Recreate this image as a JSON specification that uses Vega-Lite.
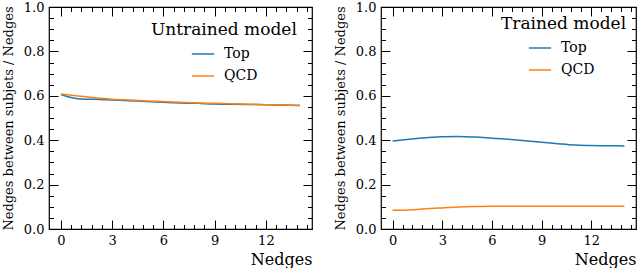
{
  "$schema": "https://vega.github.io/schema/vega-lite/v6.json",
  "padding": {"left": 1, "top": 0, "right": 5, "bottom": 0},
  "background": "white",
  "spacing": 19,
  "config": {
    "view": {"stroke": "#000", "strokeWidth": 1.2},
    "font": "DejaVu Serif",
    "axis": {
      "grid": false,
      "domain": false,
      "ticks": true,
      "zindex": 1,
      "labelFont": "DejaVu Serif",
      "labelFontSize": 13,
      "labelColor": "#000",
      "tickColor": "#000",
      "tickOpacity": 1,
      "tickWidth": 1,
      "labelFlush": false,
      "labelOverlap": false,
      "titleFont": "DejaVu Serif",
      "titleFontWeight": "normal",
      "titleColor": "#000"
    },
    "legend": {
      "orient": "top-right",
      "offset": 15,
      "padding": 0,
      "titleFont": "DejaVu Serif",
      "titleFontSize": 17,
      "titleFontWeight": "normal",
      "titleColor": "#000",
      "titlePadding": 3,
      "labelFont": "DejaVu Serif",
      "labelFontSize": 14,
      "labelColor": "#000",
      "labelOffset": 9,
      "symbolType": "stroke",
      "symbolStrokeWidth": 1.5,
      "symbolSize": 500,
      "rowPadding": 3
    }
  },
  "data": {"values": [
    {"panel": "U", "sample": "Top", "n": 0, "v": 0.606},
    {"panel": "U", "sample": "Top", "n": 1, "v": 0.587},
    {"panel": "U", "sample": "Top", "n": 2, "v": 0.584},
    {"panel": "U", "sample": "Top", "n": 3, "v": 0.581},
    {"panel": "U", "sample": "Top", "n": 4, "v": 0.578},
    {"panel": "U", "sample": "Top", "n": 5, "v": 0.574},
    {"panel": "U", "sample": "Top", "n": 6, "v": 0.571},
    {"panel": "U", "sample": "Top", "n": 7, "v": 0.568},
    {"panel": "U", "sample": "Top", "n": 8, "v": 0.566},
    {"panel": "U", "sample": "Top", "n": 9, "v": 0.563},
    {"panel": "U", "sample": "Top", "n": 10, "v": 0.562},
    {"panel": "U", "sample": "Top", "n": 11, "v": 0.561},
    {"panel": "U", "sample": "Top", "n": 12, "v": 0.560},
    {"panel": "U", "sample": "Top", "n": 13, "v": 0.558},
    {"panel": "U", "sample": "Top", "n": 14, "v": 0.556},
    {"panel": "U", "sample": "QCD", "n": 0, "v": 0.608},
    {"panel": "U", "sample": "QCD", "n": 1, "v": 0.599},
    {"panel": "U", "sample": "QCD", "n": 2, "v": 0.591},
    {"panel": "U", "sample": "QCD", "n": 3, "v": 0.585},
    {"panel": "U", "sample": "QCD", "n": 4, "v": 0.581},
    {"panel": "U", "sample": "QCD", "n": 5, "v": 0.577},
    {"panel": "U", "sample": "QCD", "n": 6, "v": 0.574},
    {"panel": "U", "sample": "QCD", "n": 7, "v": 0.571},
    {"panel": "U", "sample": "QCD", "n": 8, "v": 0.568},
    {"panel": "U", "sample": "QCD", "n": 9, "v": 0.566},
    {"panel": "U", "sample": "QCD", "n": 10, "v": 0.564},
    {"panel": "U", "sample": "QCD", "n": 11, "v": 0.562},
    {"panel": "U", "sample": "QCD", "n": 12, "v": 0.560},
    {"panel": "U", "sample": "QCD", "n": 13, "v": 0.558},
    {"panel": "U", "sample": "QCD", "n": 14, "v": 0.556},
    {"panel": "T", "sample": "Top", "n": 0, "v": 0.396},
    {"panel": "T", "sample": "Top", "n": 1, "v": 0.404},
    {"panel": "T", "sample": "Top", "n": 2, "v": 0.411},
    {"panel": "T", "sample": "Top", "n": 3, "v": 0.416},
    {"panel": "T", "sample": "Top", "n": 4, "v": 0.417},
    {"panel": "T", "sample": "Top", "n": 5, "v": 0.414},
    {"panel": "T", "sample": "Top", "n": 6, "v": 0.409},
    {"panel": "T", "sample": "Top", "n": 7, "v": 0.404},
    {"panel": "T", "sample": "Top", "n": 8, "v": 0.398},
    {"panel": "T", "sample": "Top", "n": 9, "v": 0.391},
    {"panel": "T", "sample": "Top", "n": 10, "v": 0.384},
    {"panel": "T", "sample": "Top", "n": 11, "v": 0.378},
    {"panel": "T", "sample": "Top", "n": 12, "v": 0.376},
    {"panel": "T", "sample": "Top", "n": 13, "v": 0.375},
    {"panel": "T", "sample": "Top", "n": 14, "v": 0.374},
    {"panel": "T", "sample": "QCD", "n": 0, "v": 0.085},
    {"panel": "T", "sample": "QCD", "n": 1, "v": 0.086},
    {"panel": "T", "sample": "QCD", "n": 2, "v": 0.091},
    {"panel": "T", "sample": "QCD", "n": 3, "v": 0.095},
    {"panel": "T", "sample": "QCD", "n": 4, "v": 0.099},
    {"panel": "T", "sample": "QCD", "n": 5, "v": 0.101},
    {"panel": "T", "sample": "QCD", "n": 6, "v": 0.102},
    {"panel": "T", "sample": "QCD", "n": 7, "v": 0.102},
    {"panel": "T", "sample": "QCD", "n": 8, "v": 0.102},
    {"panel": "T", "sample": "QCD", "n": 9, "v": 0.102},
    {"panel": "T", "sample": "QCD", "n": 10, "v": 0.102},
    {"panel": "T", "sample": "QCD", "n": 11, "v": 0.102},
    {"panel": "T", "sample": "QCD", "n": 12, "v": 0.102},
    {"panel": "T", "sample": "QCD", "n": 13, "v": 0.103},
    {"panel": "T", "sample": "QCD", "n": 14, "v": 0.103}
  ]},
  "resolve": {"legend": {"color": "independent"}},
  "hconcat": [
    {
      "width": 263, "height": 222,
      "transform": [{"filter": "datum.panel == 'U'"}],
      "layer": [
        {
          "mark": {"type": "line", "strokeWidth": 1.5, "interpolate": "monotone"},
          "encoding": {
            "x": {"field": "n", "type": "quantitative",
              "scale": {"domain": [-0.7, 14.7], "nice": false, "zero": false},
              "axis": {"orient": "bottom", "title": "Nedges", "titleAnchor": "end", "titleFontSize": 16, "titlePadding": 0,
                "values": [0,0.6,1.2,1.8,2.4,3,3.6,4.2,4.8,5.4,6,6.6,7.2,7.8,8.4,9,9.6,10.2,10.8,11.4,12,12.6,13.2,13.8,14.4],
                "tickSize": {"condition": {"test": "datum.value % 3 == 0", "value": -9}, "value": -4.5},
                "labelExpr": "datum.value % 3 == 0 ? format(datum.value, 'd') : ''",
                "labelPadding": 14}},
            "y": {"field": "v", "type": "quantitative",
              "scale": {"domain": [0, 1], "nice": false},
              "axis": {"orient": "left", "title": "Nedges between subjets / Nedges", "titleFontSize": 13, "titlePadding": 8,
                "values": [0,0.05,0.1,0.15,0.2,0.25,0.3,0.35,0.4,0.45,0.5,0.55,0.6,0.65,0.7,0.75,0.8,0.85,0.9,0.95,1],
                "tickSize": {"condition": {"test": "abs(datum.value*5 - round(datum.value*5)) < 0.001", "value": -9}, "value": -4.5},
                "labelExpr": "abs(datum.value*5 - round(datum.value*5)) < 0.001 ? format(datum.value, '.1f') : ''",
                "labelPadding": 14}},
            "color": {"field": "sample", "type": "nominal",
              "scale": {"domain": ["Top", "QCD"], "range": ["#1f77b4", "#ff7f0e"]},
              "legend": {"title": "Untrained model", "symbolOffset": 40, "offset": 15}}
          }
        },
        {
          "mark": {"type": "line", "strokeOpacity": 0},
          "encoding": {
            "x": {"field": "n", "type": "quantitative",
              "scale": {"domain": [-0.7, 14.7], "nice": false, "zero": false},
              "axis": {"orient": "top", "title": null, "labels": false, "minExtent": 0, "maxExtent": 0,
                "values": [0,0.6,1.2,1.8,2.4,3,3.6,4.2,4.8,5.4,6,6.6,7.2,7.8,8.4,9,9.6,10.2,10.8,11.4,12,12.6,13.2,13.8,14.4],
                "tickSize": {"condition": {"test": "datum.value % 3 == 0", "value": -9}, "value": -4.5}}},
            "y": {"field": "v", "type": "quantitative",
              "scale": {"domain": [0, 1], "nice": false},
              "axis": {"orient": "right", "title": null, "labels": false, "minExtent": 0, "maxExtent": 0,
                "values": [0,0.05,0.1,0.15,0.2,0.25,0.3,0.35,0.4,0.45,0.5,0.55,0.6,0.65,0.7,0.75,0.8,0.85,0.9,0.95,1],
                "tickSize": {"condition": {"test": "abs(datum.value*5 - round(datum.value*5)) < 0.001", "value": -9}, "value": -4.5}}}
          }
        }
      ],
      "resolve": {"axis": {"x": "independent", "y": "independent"}}
    },
    {
      "width": 255, "height": 222,
      "transform": [{"filter": "datum.panel == 'T'"}],
      "layer": [
        {
          "mark": {"type": "line", "strokeWidth": 1.5, "interpolate": "monotone"},
          "encoding": {
            "x": {"field": "n", "type": "quantitative",
              "scale": {"domain": [-0.7, 14.7], "nice": false, "zero": false},
              "axis": {"orient": "bottom", "title": "Nedges", "titleAnchor": "end", "titleFontSize": 16, "titlePadding": 0,
                "values": [0,0.6,1.2,1.8,2.4,3,3.6,4.2,4.8,5.4,6,6.6,7.2,7.8,8.4,9,9.6,10.2,10.8,11.4,12,12.6,13.2,13.8,14.4],
                "tickSize": {"condition": {"test": "datum.value % 3 == 0", "value": -9}, "value": -4.5},
                "labelExpr": "datum.value % 3 == 0 ? format(datum.value, 'd') : ''",
                "labelPadding": 14}},
            "y": {"field": "v", "type": "quantitative",
              "scale": {"domain": [0, 1], "nice": false},
              "axis": {"orient": "left", "title": "Nedges between subjets / Nedges", "titleFontSize": 13, "titlePadding": 8,
                "values": [0,0.05,0.1,0.15,0.2,0.25,0.3,0.35,0.4,0.45,0.5,0.55,0.6,0.65,0.7,0.75,0.8,0.85,0.9,0.95,1],
                "tickSize": {"condition": {"test": "abs(datum.value*5 - round(datum.value*5)) < 0.001", "value": -9}, "value": -4.5},
                "labelExpr": "abs(datum.value*5 - round(datum.value*5)) < 0.001 ? format(datum.value, '.1f') : ''",
                "labelPadding": 14}},
            "color": {"field": "sample", "type": "nominal",
              "scale": {"domain": ["Top", "QCD"], "range": ["#1f77b4", "#ff7f0e"]},
              "legend": {"title": "Trained model", "symbolOffset": 27, "offset": 9}}
          }
        },
        {
          "mark": {"type": "line", "strokeOpacity": 0},
          "encoding": {
            "x": {"field": "n", "type": "quantitative",
              "scale": {"domain": [-0.7, 14.7], "nice": false, "zero": false},
              "axis": {"orient": "top", "title": null, "labels": false, "minExtent": 0, "maxExtent": 0,
                "values": [0,0.6,1.2,1.8,2.4,3,3.6,4.2,4.8,5.4,6,6.6,7.2,7.8,8.4,9,9.6,10.2,10.8,11.4,12,12.6,13.2,13.8,14.4],
                "tickSize": {"condition": {"test": "datum.value % 3 == 0", "value": -9}, "value": -4.5}}},
            "y": {"field": "v", "type": "quantitative",
              "scale": {"domain": [0, 1], "nice": false},
              "axis": {"orient": "right", "title": null, "labels": false, "minExtent": 0, "maxExtent": 0,
                "values": [0,0.05,0.1,0.15,0.2,0.25,0.3,0.35,0.4,0.45,0.5,0.55,0.6,0.65,0.7,0.75,0.8,0.85,0.9,0.95,1],
                "tickSize": {"condition": {"test": "abs(datum.value*5 - round(datum.value*5)) < 0.001", "value": -9}, "value": -4.5}}}
          }
        }
      ],
      "resolve": {"axis": {"x": "independent", "y": "independent"}}
    }
  ]
}
